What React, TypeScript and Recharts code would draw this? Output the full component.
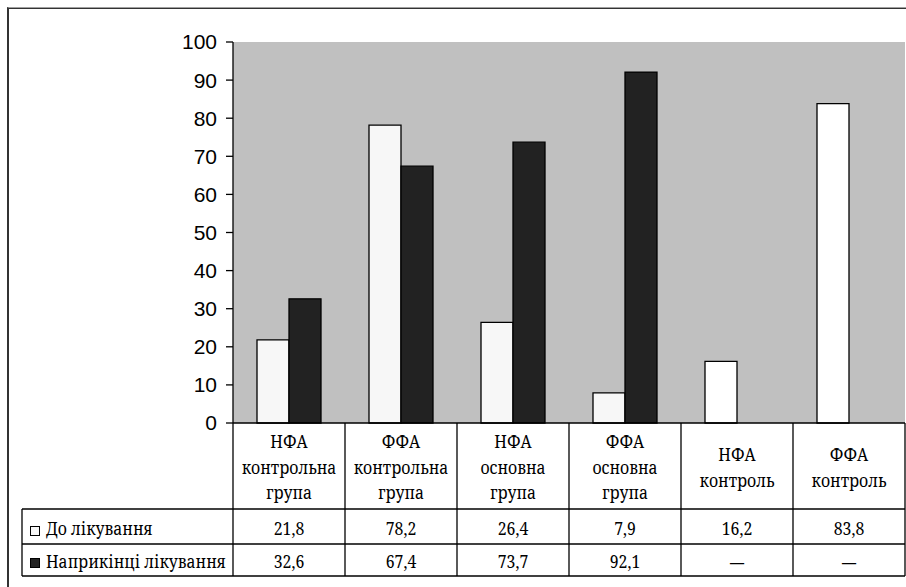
import React from "react";
import { BarChart, Bar, XAxis, YAxis, CartesianGrid, Cell } from "recharts";

const categories = [
  "НФА контрольна група",
  "ФФА контрольна група",
  "НФА основна група",
  "ФФА основна група",
  "НФА контроль",
  "ФФА контроль",
];
const beforeValues: (number | null)[] = [21.8, 78.2, 26.4, 7.9, 16.2, 83.8];
const endValues: (number | null)[] = [32.6, 67.4, 73.7, 92.1, null, null];
const seriesNames = ["До лікування", "Наприкінці лікування"];
const yTicks = [0, 10, 20, 30, 40, 50, 60, 70, 80, 90, 100];

const beforeFills = ["#f7f7f7", "#f7f7f7", "#f7f7f7", "#f7f7f7", "#ffffff", "#ffffff"];
const darkFill = "#222222";

const data = categories.map((c, i) => ({
  name: c,
  before: beforeValues[i],
  end: endValues[i],
}));

const fmt = (v: number | null) => (v == null ? "—" : v.toFixed(1).replace(".", ","));

const SERIF = '"Noto Serif", "DejaVu Serif", serif';
const SANS = '"Liberation Sans", Arial, sans-serif';

const HEADER_H = 86;
const ROW1_H = 35;
const ROW2_H = 32;
const TABLE_LEFT = 22;
const SX = 0.88;

function SText(props: {
  x: number;
  y: number;
  anchor?: "start" | "middle" | "end";
  size?: number;
  weight?: number;
  children: React.ReactNode;
}) {
  const { x, y, anchor = "start", size = 18, weight = 400, children } = props;
  return (
    <text
      x={0}
      y={0}
      transform={`translate(${x},${y}) scale(${SX},1)`}
      textAnchor={anchor}
      style={{ fontFamily: SERIF, fontSize: size, fontWeight: weight }}
      fill="#000"
    >
      {children}
    </text>
  );
}

function TableTick(props: any) {
  const { x, y, payload, index, width } = props;
  const n = categories.length;
  const half = width ? width / (2 * n) : 56;
  const top = y;
  const left = x - half;
  const right = x + half;
  const r1 = top + HEADER_H;
  const r2 = r1 + ROW1_H;
  const r3 = r2 + ROW2_H;
  const lines = String(payload.value).split(" ");
  const lineH = 25.5;
  const firstBase = lines.length === 3 ? top + 25 : top + 38;
  const stroke = "#000";
  const sw = 1.3;
  const vals = [beforeValues[index], endValues[index]];
  return (
    <g>
      <line x1={left} y1={top} x2={left} y2={r3} stroke={stroke} strokeWidth={sw} />
      {index === n - 1 && (
        <line x1={right} y1={top} x2={right} y2={r3} stroke={stroke} strokeWidth={sw} />
      )}
      {index === 0 && (
        <g>
          <line x1={TABLE_LEFT} y1={r1} x2={left + width} y2={r1} stroke={stroke} strokeWidth={sw} />
          <line x1={TABLE_LEFT} y1={r2} x2={left + width} y2={r2} stroke={stroke} strokeWidth={sw} />
          <line x1={TABLE_LEFT} y1={r3} x2={left + width} y2={r3} stroke={stroke} strokeWidth={sw} />
          <line x1={TABLE_LEFT} y1={r1} x2={TABLE_LEFT} y2={r3} stroke={stroke} strokeWidth={sw} />
          <rect x={30.5} y={r1 + 17.5} width={9} height={9} fill={beforeFills[0]} stroke="#000" strokeWidth={1} />
          <SText x={46} y={r1 + 26}>{seriesNames[0]}</SText>
          <rect x={30.5} y={r2 + 14.5} width={9} height={9} fill={darkFill} stroke="#000" strokeWidth={1} />
          <SText x={46} y={r2 + 24}>{seriesNames[1]}</SText>
        </g>
      )}
      {lines.map((ln, i) => (
        <SText key={i} x={x} y={firstBase + i * lineH} anchor="middle">
          {ln}
        </SText>
      ))}
      {vals.map((v, i) => (
        <SText
          key={"v" + i}
          x={x}
          y={i === 0 ? r1 + 26 : r2 + 24}
          anchor="middle"
          size={v == null ? 16 : 18}
          weight={v == null ? 700 : 400}
        >
          {fmt(v)}
        </SText>
      ))}
    </g>
  );
}

export default function App() {
  return (
    <div
      style={{
        position: "absolute",
        left: 0,
        top: 0,
        width: 906,
        height: 587,
        background: "#fff",
        overflow: "hidden",
      }}
    >
      <div
        style={{
          position: "absolute",
          left: 7,
          top: 7,
          width: 906,
          height: 600,
          borderLeft: "2px solid #333",
          borderTop: "1px solid #a0a0a0",
          boxShadow: "inset 0 1px 0 #333",
        }}
      />
      <div style={{ position: "absolute", left: 0, top: 0 }}>
        <BarChart
          width={906}
          height={587}
          data={data}
          margin={{ top: 42, right: 1, left: 0, bottom: 0 }}
          barGap={0}
          barSize={32}
        >
          <CartesianGrid horizontal={false} vertical={false} fill="#c0c0c0" />
          <XAxis
            xAxisId="top"
            orientation="top"
            dataKey="name"
            height={0}
            tick={false}
            tickLine={false}
            axisLine={{ stroke: "#000", strokeWidth: 1.3 }}
          />
          <XAxis
            dataKey="name"
            height={164}
            tickSize={0}
            tickMargin={0}
            tickLine={false}
            interval={0}
            axisLine={{ stroke: "#000", strokeWidth: 1.3 }}
            tick={<TableTick />}
          />
          <YAxis
            domain={[0, 100]}
            ticks={yTicks}
            width={233}
            tickSize={7}
            tickMargin={9}
            axisLine={{ stroke: "#000", strokeWidth: 1.3 }}
            tickLine={{ stroke: "#000", strokeWidth: 1.3 }}
            tick={{ fill: "#000", fontSize: 21, fontFamily: SANS }}
            interval={0}
          />
          <YAxis
            yAxisId="right"
            orientation="right"
            domain={[0, 100]}
            width={0}
            tick={false}
            tickLine={false}
            axisLine={{ stroke: "#000", strokeWidth: 1.3 }}
          />
          <Bar dataKey="before" stroke="#000" strokeWidth={1.3} isAnimationActive={false}>
            {data.map((d, i) => (
              <Cell key={i} fill={beforeFills[i]} />
            ))}
          </Bar>
          <Bar dataKey="end" fill={darkFill} stroke="#000" strokeWidth={1.3} isAnimationActive={false} />
        </BarChart>
      </div>
    </div>
  );
}
